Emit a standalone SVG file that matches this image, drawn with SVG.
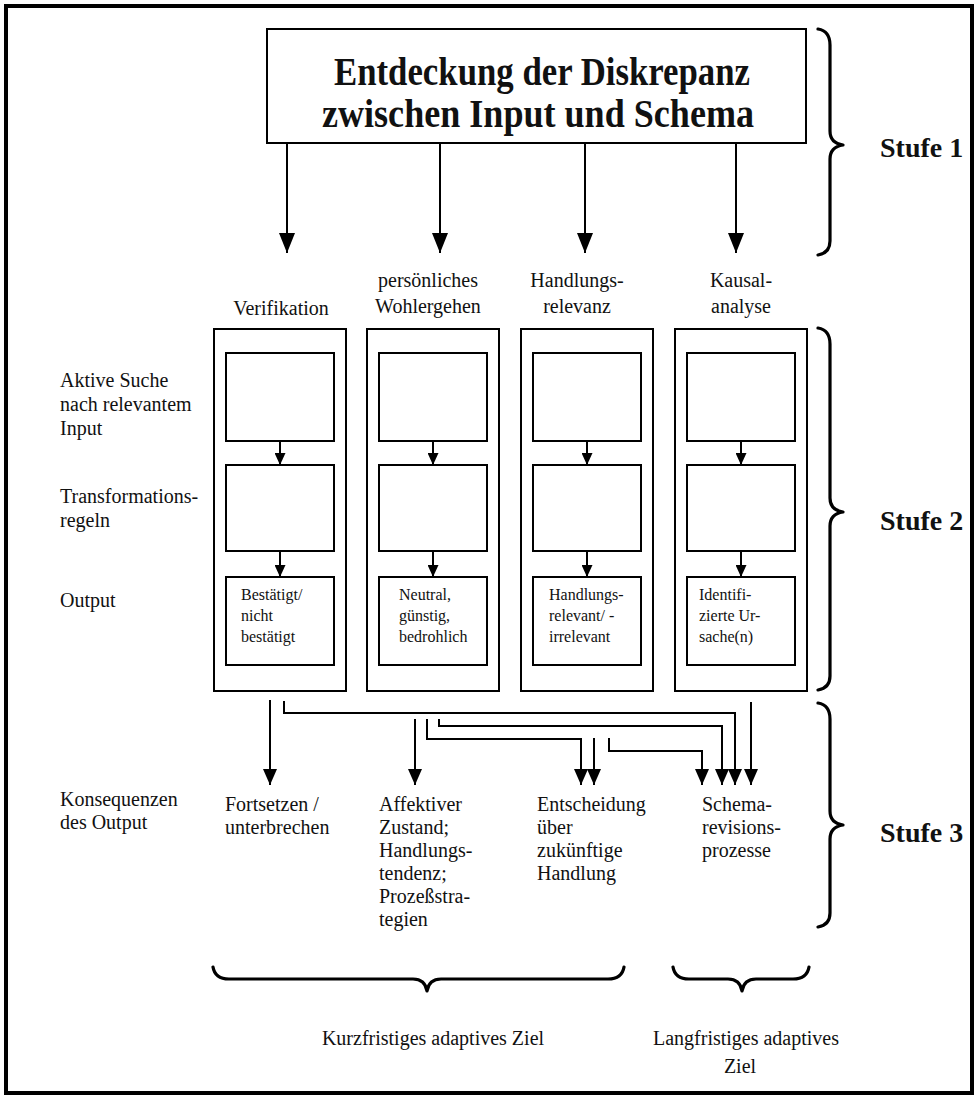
<svg xmlns="http://www.w3.org/2000/svg" width="978" height="1099" viewBox="0 0 978 1099">
<defs>
<style>
.t{font-family:"Liberation Serif","Times New Roman",serif;font-size:20px;fill:#111}
.s{font-family:"Liberation Serif","Times New Roman",serif;font-size:16px;fill:#111}
.b{font-family:"Liberation Serif","Times New Roman",serif;font-weight:bold;fill:#111}
.box{fill:none;stroke:#000;stroke-width:2}
.ln{fill:none;stroke:#000;stroke-width:2}
.br{fill:none;stroke:#000;stroke-width:3.2;stroke-linecap:round;stroke-linejoin:round}
</style>
<marker id="ahL" viewBox="0 0 20 16" refX="20" refY="8" markerWidth="20" markerHeight="16" markerUnits="userSpaceOnUse" orient="auto"><path d="M0,0 L20,8 L0,16 z" fill="#000"/></marker>
<marker id="ahM" viewBox="0 0 16 14" refX="16" refY="7" markerWidth="16" markerHeight="14" markerUnits="userSpaceOnUse" orient="auto"><path d="M0,0 L16,7 L0,14 z" fill="#000"/></marker>
<marker id="ahS" viewBox="0 0 12 11" refX="12" refY="5.5" markerWidth="12" markerHeight="11" markerUnits="userSpaceOnUse" orient="auto"><path d="M0,0 L12,5.5 L0,11 z" fill="#000"/></marker>
</defs>
<rect x="0" y="0" width="978" height="1099" fill="#fff"/>
<rect x="6" y="6" width="966" height="1087" fill="none" stroke="#000" stroke-width="4"/>

<g id="top">
<rect x="267" y="29" width="539" height="114" class="box" stroke-width="2.5"/>
<text class="b" font-size="41" x="334" y="85" textLength="416" lengthAdjust="spacingAndGlyphs">Entdeckung der Diskrepanz</text>
<text class="b" font-size="41" x="322" y="127" textLength="432" lengthAdjust="spacingAndGlyphs">zwischen Input und Schema</text>
</g>

<g id="labels-left">
<text class="t" x="60" y="387">Aktive Suche</text>
<text class="t" x="60" y="411">nach relevantem</text>
<text class="t" x="60" y="435">Input</text>
<text class="t" x="60" y="503">Transformations-</text>
<text class="t" x="60" y="527">regeln</text>
<text class="t" x="60" y="607">Output</text>
<text class="t" x="60" y="806">Konsequenzen</text>
<text class="t" x="60" y="829">des Output</text>
</g>

<g id="col1">
<text class="t" x="281" y="315" text-anchor="middle">Verifikation</text>
<rect x="214" y="329" width="132" height="362" class="box"/>
<rect x="226" y="353" width="108" height="88" class="box"/>
<rect x="226" y="465" width="108" height="86" class="box"/>
<rect x="226" y="577" width="108" height="88" class="box"/>
<text class="s" x="241" y="600">Bestätigt/</text>
<text class="s" x="241" y="621">nicht</text>
<text class="s" x="241" y="642">bestätigt</text>
</g>

<g id="col2">
<text class="t" x="428" y="287" text-anchor="middle">persönliches</text>
<text class="t" x="428" y="313" text-anchor="middle">Wohlergehen</text>
<rect x="367" y="329" width="132" height="362" class="box"/>
<rect x="379" y="353" width="108" height="88" class="box"/>
<rect x="379" y="465" width="108" height="86" class="box"/>
<rect x="379" y="577" width="108" height="88" class="box"/>
<text class="s" x="399" y="600">Neutral,</text>
<text class="s" x="399" y="621">günstig,</text>
<text class="s" x="399" y="642">bedrohlich</text>
</g>

<g id="col3">
<text class="t" x="577" y="287" text-anchor="middle">Handlungs-</text>
<text class="t" x="577" y="313" text-anchor="middle">relevanz</text>
<rect x="521" y="329" width="132" height="362" class="box"/>
<rect x="533" y="353" width="108" height="88" class="box"/>
<rect x="533" y="465" width="108" height="86" class="box"/>
<rect x="533" y="577" width="108" height="88" class="box"/>
<text class="s" x="549" y="600">Handlungs-</text>
<text class="s" x="549" y="621">relevant/ -</text>
<text class="s" x="549" y="642">irrelevant</text>
</g>

<g id="col4">
<text class="t" x="741" y="287" text-anchor="middle">Kausal-</text>
<text class="t" x="741" y="313" text-anchor="middle">analyse</text>
<rect x="675" y="329" width="132" height="362" class="box"/>
<rect x="687" y="353" width="108" height="88" class="box"/>
<rect x="687" y="465" width="108" height="86" class="box"/>
<rect x="687" y="577" width="108" height="88" class="box"/>
<text class="s" x="699" y="600">Identifi-</text>
<text class="s" x="699" y="621">zierte Ur-</text>
<text class="s" x="699" y="642">sache(n)</text>
</g>

<g id="stage3">
<text class="t" x="225" y="811">Fortsetzen /</text>
<text class="t" x="225" y="834">unterbrechen</text>
<text class="t" x="379" y="811">Affektiver</text>
<text class="t" x="379" y="834">Zustand;</text>
<text class="t" x="379" y="857">Handlungs-</text>
<text class="t" x="379" y="880">tendenz;</text>
<text class="t" x="379" y="903">Prozeßstra-</text>
<text class="t" x="379" y="926">tegien</text>
<text class="t" x="537" y="811">Entscheidung</text>
<text class="t" x="537" y="834">über</text>
<text class="t" x="537" y="857">zukünftige</text>
<text class="t" x="537" y="880">Handlung</text>
<text class="t" x="702" y="811">Schema-</text>
<text class="t" x="702" y="834">revisions-</text>
<text class="t" x="702" y="857">prozesse</text>
</g>

<g id="stufen">
<path class="br" d="M818,29 Q830,31 830,45 L830,131 Q830,143 843,145 Q830,147 830,159 L830,241 Q830,253 818,255"/>
<text class="b" font-size="28" x="880" y="157">Stufe 1</text>
<path class="br" d="M818,328 Q830,330 830,344 L830,498 Q830,510 843,512 Q830,514 830,526 L830,676 Q830,688 818,690"/>
<text class="b" font-size="28" x="880" y="530">Stufe 2</text>
<path class="br" d="M818,703 Q830,705 830,719 L830,811 Q830,823 843,825 Q830,827 830,839 L830,913 Q830,925 818,927"/>
<text class="b" font-size="28" x="880" y="842">Stufe 3</text>
</g>

<g id="ziele">
<path class="br" d="M213,967 Q215,979 229,979 L413,979 Q425,979 427,991 Q429,979 441,979 L608,979 Q622,979 624,967"/>
<path class="br" d="M673,967 Q675,979 689,979 L728,979 Q740,979 742,991 Q744,979 756,979 L793,979 Q807,979 809,967"/>
<text class="t" font-size="24" x="433" y="1045" text-anchor="middle">Kurzfristiges adaptives Ziel</text>
<text class="t" font-size="23" x="746" y="1045" text-anchor="middle">Langfristiges adaptives</text>
<text class="t" font-size="23" x="740" y="1073" text-anchor="middle">Ziel</text>
</g>

<g id="connectors">
<path class="ln" d="M287,143 V253" marker-end="url(#ahL)"/>
<path class="ln" d="M440,143 V253" marker-end="url(#ahL)"/>
<path class="ln" d="M585,143 V253" marker-end="url(#ahL)"/>
<path class="ln" d="M736,143 V253" marker-end="url(#ahL)"/>

<path class="ln" d="M280,441 V465" marker-end="url(#ahS)"/>
<path class="ln" d="M280,551 V577" marker-end="url(#ahS)"/>
<path class="ln" d="M433,441 V465" marker-end="url(#ahS)"/>
<path class="ln" d="M433,551 V577" marker-end="url(#ahS)"/>
<path class="ln" d="M587,441 V465" marker-end="url(#ahS)"/>
<path class="ln" d="M587,551 V577" marker-end="url(#ahS)"/>
<path class="ln" d="M741,441 V465" marker-end="url(#ahS)"/>
<path class="ln" d="M741,551 V577" marker-end="url(#ahS)"/>

<path class="ln" d="M270,700 V785" marker-end="url(#ahM)"/>
<path class="ln" d="M284,701 V713 H735 V785" marker-end="url(#ahM)"/>
<path class="ln" d="M415,719 V785" marker-end="url(#ahM)"/>
<path class="ln" d="M427,719 V739 H581 V785" marker-end="url(#ahM)"/>
<path class="ln" d="M439,719 V726 H722 V785" marker-end="url(#ahM)"/>
<path class="ln" d="M594,738 V785" marker-end="url(#ahM)"/>
<path class="ln" d="M609,738 V751 H702 V785" marker-end="url(#ahM)"/>
<path class="ln" d="M751,702 V785" marker-end="url(#ahM)"/>
</g>
</svg>
